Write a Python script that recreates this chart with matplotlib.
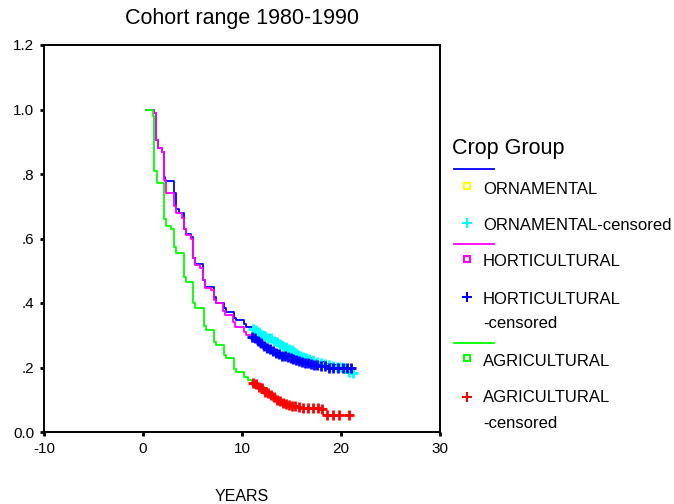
import numpy as np
import matplotlib
matplotlib.use("Agg")
import matplotlib.pyplot as plt
from matplotlib.lines import Line2D

plt.rcParams["font.family"] = ["Liberation Sans", "DejaVu Sans"]
plt.rcParams["axes.unicode_minus"] = False

# ── Kaplan-Meier step data (time in years, cumulative survival) ──────────────
orn_t = [0.3, 1.1, 1.3, 1.5, 1.9, 2.1, 2.2, 3.1, 3.3, 3.6, 4.1, 4.3, 4.8, 5.1, 5.3,
         6.1, 6.3, 7.2, 7.4, 8.2, 8.4, 9.2, 9.4, 10.2, 10.4, 11.1, 11.6, 12.2, 12.8,
         13.4, 14.0, 14.6, 15.2, 15.8, 16.4, 17.0, 17.6, 18.3, 19.0, 19.7, 20.3, 21.0, 21.3]
orn_s = [1.0, 0.99, 0.905, 0.88, 0.868, 0.79, 0.778, 0.74, 0.69, 0.68, 0.63, 0.615, 0.605,
         0.54, 0.52, 0.47, 0.45, 0.42, 0.40, 0.385, 0.372, 0.355, 0.347, 0.335, 0.326,
         0.32, 0.31, 0.30, 0.29, 0.278, 0.268, 0.258, 0.247, 0.237, 0.228, 0.222, 0.217,
         0.212, 0.208, 0.203, 0.20, 0.185, 0.185]

hort_t = [0.3, 1.1, 1.3, 1.5, 1.9, 2.1, 2.3, 3.1, 3.3, 3.9, 4.1, 4.3, 4.8, 5.1, 5.3,
          5.8, 6.1, 6.3, 6.9, 7.2, 7.4, 8.1, 8.3, 9.1, 9.3, 10.2, 10.4, 10.9, 11.5,
          12.0, 12.5, 13.0, 13.5, 14.0, 14.5, 15.0, 15.5, 16.0, 16.5, 17.0, 17.5, 18.0,
          18.6, 21.0]
hort_s = [1.0, 0.99, 0.905, 0.88, 0.868, 0.78, 0.74, 0.70, 0.68, 0.665, 0.63, 0.61, 0.60,
          0.54, 0.518, 0.51, 0.47, 0.446, 0.44, 0.41, 0.40, 0.375, 0.363, 0.34, 0.326,
          0.31, 0.30, 0.295, 0.285, 0.27, 0.26, 0.25, 0.243, 0.237, 0.232, 0.227, 0.222,
          0.218, 0.214, 0.211, 0.208, 0.204, 0.20, 0.20]

agr_t = [0.3, 1.0, 1.1, 1.4, 2.1, 2.3, 2.8, 3.1, 3.3, 4.1, 4.3, 5.1, 5.3, 6.2, 6.4,
         7.2, 7.4, 8.2, 8.4, 9.2, 9.4, 10.2, 10.6, 11.0, 11.5, 12.0, 12.5, 13.0, 13.5,
         14.0, 14.5, 15.0, 15.5, 16.2, 18.2, 20.8]
agr_s = [1.0, 0.98, 0.81, 0.772, 0.66, 0.64, 0.63, 0.575, 0.555, 0.48, 0.465, 0.40, 0.385,
         0.33, 0.316, 0.28, 0.27, 0.24, 0.23, 0.195, 0.186, 0.17, 0.162, 0.155, 0.147,
         0.135, 0.12, 0.11, 0.10, 0.09, 0.085, 0.082, 0.078, 0.074, 0.053, 0.053]

# censored observations
orn_cx = [11.1, 11.4, 11.7, 12.0, 12.3, 12.6, 12.9, 13.2, 13.5, 13.8, 14.1, 14.4, 14.7,
          15.0, 15.3, 15.6, 15.9, 16.2, 16.5, 16.8, 17.2, 17.6, 18.0, 18.4, 18.8, 19.2,
          19.6, 20.0, 20.4, 20.8, 21.2]
orn_cy = [0.32, 0.315, 0.31, 0.30, 0.297, 0.293, 0.29, 0.282, 0.278, 0.272, 0.268, 0.264,
          0.258, 0.253, 0.247, 0.242, 0.237, 0.232, 0.228, 0.225, 0.222, 0.217, 0.213,
          0.212, 0.208, 0.206, 0.203, 0.202, 0.20, 0.185, 0.183]

hort_cx = [11.0, 11.3, 11.6, 11.9, 12.2, 12.5, 12.8, 13.1, 13.4, 13.7, 14.0, 14.3, 14.6,
           14.9, 15.2, 15.5, 15.8, 16.1, 16.4, 16.7, 17.0, 17.3, 17.6, 18.0, 18.4, 18.8,
           19.2, 19.7, 20.2, 20.6, 21.0]
hort_cy = [0.295, 0.29, 0.283, 0.275, 0.268, 0.262, 0.257, 0.25, 0.245, 0.242, 0.237,
           0.235, 0.232, 0.228, 0.225, 0.223, 0.221, 0.218, 0.215, 0.213, 0.211, 0.209,
           0.208, 0.204, 0.204, 0.20, 0.20, 0.20, 0.20, 0.20, 0.20]

agr_cx = [11.1, 11.4, 11.7, 12.0, 12.3, 12.6, 12.9, 13.2, 13.5, 13.8, 14.1, 14.4, 14.7,
          15.0, 15.4, 15.8, 16.2, 16.7, 17.2, 17.7, 18.1, 18.6, 19.2, 19.8, 20.8]
agr_cy = [0.152, 0.148, 0.14, 0.135, 0.125, 0.12, 0.115, 0.11, 0.10, 0.095, 0.09, 0.088,
          0.085, 0.082, 0.08, 0.078, 0.074, 0.074, 0.074, 0.074, 0.072, 0.053, 0.053,
          0.053, 0.053]

xticks = [-10, 0, 10, 20, 30]
yticks = [0.0, 0.2, 0.4, 0.6, 0.8, 1.0, 1.2]
ytick_labels = ["0.0", ".2", ".4", ".6", ".8", "1.0", "1.2"]

W, H = 674, 504
fig = plt.figure(figsize=(W / 100, H / 100), dpi=100)
ax = fig.add_axes([44 / W, 1 - 432 / H, 396 / W, 387 / H])

lw = 1.3
ax.step(orn_t, orn_s, where="post", color="#0000ff", lw=lw)
ax.step(hort_t, hort_s, where="post", color="#ff00ff", lw=lw)
ax.step(agr_t, agr_s, where="post", color="#00ff00", lw=lw)

ms, mew = 7.5, 2.0
ax.plot(orn_cx, orn_cy, "+", color="#00ffff", ms=ms, mew=mew)
ax.plot(hort_cx, hort_cy, "+", color="#0000ff", ms=ms, mew=mew)
ax.plot(agr_cx, agr_cy, "+", color="#ff0000", ms=ms, mew=mew)

ax.set_xlim(-10, 30)
ax.set_ylim(0, 1.2)
ax.set_xticks(xticks)
ax.set_yticks(yticks)
ax.set_yticklabels(ytick_labels)
ax.tick_params(direction="out", length=3, width=2, labelsize=11, pad=4)
for sp in ax.spines.values():
    sp.set_linewidth(1.4)
ax.set_xlabel("YEARS", fontsize=11.5, labelpad=24)
ax.set_title("Cohort range 1980-1990", fontsize=15.5, pad=15)

# ── legend (drawn by hand to mimic the SPSS layout) ─────────────────────────
def fx(px):
    return px / W

def fy(py):
    return 1 - py / H

LEG_FS = 12

fig.text(fx(452), fy(148), "Crop Group", fontsize=15.5, va="center", ha="left")

def leg_line(py, color):
    fig.add_artist(Line2D([fx(454), fx(494)], [fy(py), fy(py)], color=color, lw=1.3,
                          transform=fig.transFigure))

def leg_marker(py, marker, color):
    fig.add_artist(Line2D([fx(467)], [fy(py)], marker=marker, color=color,
                          mfc="none", mec=color, ms=5 if marker == "s" else 7, mew=1.5,
                          linestyle="none", transform=fig.transFigure))

def leg_text(py, label):
    fig.text(fx(483), fy(py), label, fontsize=LEG_FS, va="center", ha="left")

leg_line(169, "#0000ff")
leg_marker(186, "s", "#ffff00")
leg_text(189, "ORNAMENTAL")
leg_marker(223, "+", "#00ffff")
leg_text(225, "ORNAMENTAL-censored")
leg_line(244, "#ff00ff")
leg_marker(259, "s", "#ff00ff")
leg_text(262, "HORTICULTURAL")
leg_marker(297, "+", "#0000ff")
leg_text(299, "HORTICULTURAL")
leg_text(324, "-censored")
leg_line(343, "#00ff00")
leg_marker(358, "s", "#00ff00")
leg_text(361, "AGRICULTURAL")
leg_marker(397, "+", "#ff0000")
leg_text(398, "AGRICULTURAL")
leg_text(424, "-censored")

fig.savefig("out.png", dpi=100)
